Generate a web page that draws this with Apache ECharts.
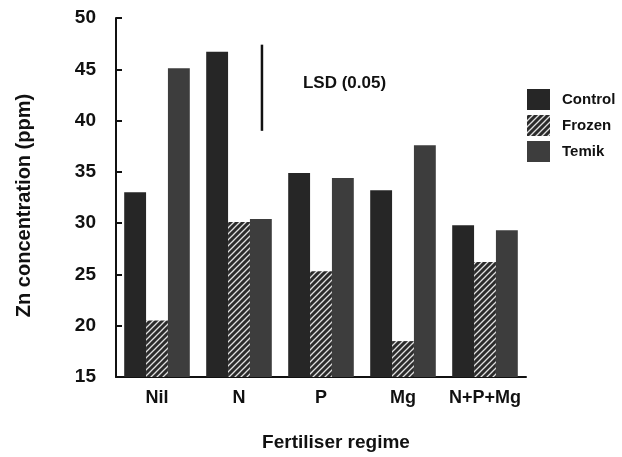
<!DOCTYPE html>
<html><head><meta charset="utf-8">
<script src="https://cdn.jsdelivr.net/npm/echarts@6/dist/echarts.min.js"></script>
<style>html,body{margin:0;padding:0;background:#fff}#c{width:622px;height:457px}</style>
</head><body><div id="c"></div>
<script>
const categories = ['Nil', 'N', 'P', 'Mg', 'N+P+Mg'];
const control = [33.0, 46.7, 34.9, 33.2, 29.8];
const frozen = [20.5, 30.1, 25.3, 18.5, 26.2];
const temik = [45.1, 30.4, 34.4, 37.6, 29.3];
const lsd = { category: 'N', low: 39.0, high: 47.4, label: 'LSD (0.05)' };
const yTicks = { min: 15, max: 50, step: 5 };

function hatch() {
  const c = document.createElement('canvas');
  c.width = 6; c.height = 6;
  const g = c.getContext('2d');
  g.fillStyle = '#2b2b2b'; g.fillRect(0, 0, 6, 6);
  g.strokeStyle = '#e0e0e0'; g.lineWidth = 1.3;
  g.beginPath();
  g.moveTo(0, 6); g.lineTo(6, 0);
  g.moveTo(-3, 3); g.lineTo(3, -3);
  g.moveTo(3, 9); g.lineTo(9, 3);
  g.stroke();
  return c;
}
const hatchPattern = { image: hatch(), repeat: 'repeat' };
const font = 'Liberation Sans, Arial, sans-serif';

const chart = echarts.init(document.getElementById('c'), null, { renderer: 'canvas' });
chart.setOption({
  animation: false,
  backgroundColor: '#fff',
  grid: { left: 116, right: 96, top: 18, bottom: 80 },
  legend: {
    left: 522, top: 84, orient: 'vertical',
    itemWidth: 23, itemHeight: 21, itemGap: 5,
    textStyle: { fontFamily: font, fontWeight: 'bold', fontSize: 15, color: '#111', padding: [0, 0, 0, 7] },
    data: [
      { name: 'Control', icon: 'rect' },
      { name: 'Frozen', icon: 'rect' },
      { name: 'Temik', icon: 'rect' }
    ]
  },
  xAxis: {
    type: 'category', data: categories,
    axisLine: { lineStyle: { color: '#111', width: 2 } },
    axisTick: { show: false },
    axisLabel: { interval: 0, fontFamily: font, fontWeight: 'bold', fontSize: 18, color: '#111', margin: 12 },
    name: 'Fertiliser regime', nameLocation: 'middle', nameGap: 56,
    nameTextStyle: { fontFamily: font, fontWeight: 'bold', fontSize: 19, color: '#111', padding: [0, 0, 0, 30] }
  },
  yAxis: {
    type: 'value', min: yTicks.min, max: yTicks.max, interval: yTicks.step,
    axisLine: { show: true, lineStyle: { color: '#111', width: 2 } },
    axisTick: { show: true, inside: true, length: 6, lineStyle: { color: '#111', width: 2 } },
    splitLine: { show: false },
    axisLabel: { fontFamily: font, fontWeight: 'bold', fontSize: 19, color: '#111', margin: 20 },
    name: 'Zn concentration (ppm)', nameLocation: 'middle', nameGap: 82,
    nameTextStyle: { fontFamily: font, fontWeight: 'bold', fontSize: 20, color: '#111', padding: [0, 16, 0, 0] }
  },
  series: [
    { name: 'Control', type: 'bar', data: control, barGap: '0%', barCategoryGap: '20%',
      itemStyle: { color: '#262626' } },
    { name: 'Frozen', type: 'bar', data: frozen,
      itemStyle: { color: hatchPattern } },
    { name: 'Temik', type: 'bar', data: temik,
      itemStyle: { color: '#3d3d3d' } },
    { name: 'LSD', type: 'custom', data: [[categories.indexOf(lsd.category), lsd.low, lsd.high]],
      silent: true, z: 5,
      renderItem: function (params, api) {
        const lo = api.coord([api.value(0), api.value(1)]);
        const hi = api.coord([api.value(0), api.value(2)]);
        const off = api.size([1, 0])[0] * 0.28;
        return {
          type: 'group', children: [
            { type: 'line', shape: { x1: lo[0] + off, y1: lo[1], x2: hi[0] + off, y2: hi[1] },
              style: { stroke: '#111', lineWidth: 2.5 } },
            { type: 'text', x: hi[0] + off + 41, y: hi[1] + 39,
              style: { text: lsd.label, fill: '#111', font: 'bold 17px ' + font, textVerticalAlign: 'middle' } }
          ]
        };
      }
    }
  ]
});
</script></body></html>
